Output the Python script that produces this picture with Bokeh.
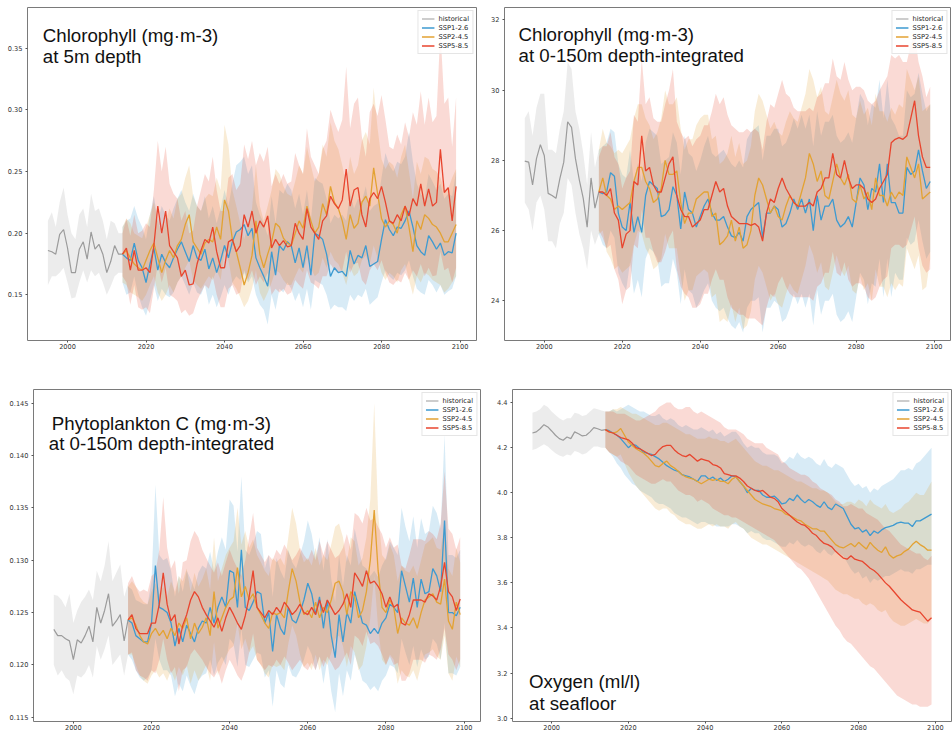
from bokeh.plotting import figure
from bokeh.layouts import column, row
from bokeh.models import Label, Legend, LegendItem, FixedTicker, CustomJSTickFormatter
from bokeh.embed import file_html
from bokeh.resources import INLINE

# ---------------- data ----------------
HIST_YEARS = list(range(1995, 2015))
SSP_YEARS = list(range(2014, 2100))
X_TICKS = [2000, 2020, 2040, 2060, 2080, 2100]
SERIES_NAMES = ["historical", "SSP1-2.6", "SSP2-4.5", "SSP5-8.5"]

# Panel 1: Chlorophyll at 5m depth
CHL5_YTICKS = [0.15, 0.20, 0.25, 0.30, 0.35]
CHL5_HIST = [0.186,0.185,0.183,0.199,0.203,0.188,0.168,0.168,0.187,0.193,
             0.179,0.201,0.187,0.191,0.183,0.168,0.177,0.190,0.183,0.183]
CHL5_HIST_LO = [0.158,0.165,0.165,0.168,0.172,0.160,0.147,0.148,0.160,0.170,
                0.160,0.170,0.165,0.168,0.160,0.150,0.157,0.165,0.168,0.168]
CHL5_HIST_HI = [0.210,0.217,0.205,0.225,0.237,0.215,0.200,0.195,0.215,0.220,
                0.205,0.232,0.218,0.220,0.210,0.195,0.210,0.208,0.200,0.200]
CHL5_SSP126 = [0.183,0.180,0.178,0.192,0.178,0.172,0.160,0.175,0.188,0.170,
               0.183,0.176,0.172,0.180,0.187,0.193,0.185,0.177,0.190,0.180,
               0.178,0.187,0.171,0.180,0.168,0.178,0.190,0.180,0.193,0.201,
               0.203,0.207,0.198,0.204,0.180,0.172,0.165,0.157,0.185,0.166,
               0.190,0.186,0.193,0.190,0.176,0.188,0.172,0.190,0.166,0.200,
               0.198,0.195,0.183,0.165,0.172,0.168,0.169,0.165,0.186,0.175,
               0.182,0.180,0.190,0.173,0.175,0.177,0.195,0.211,0.203,0.198,
               0.205,0.204,0.210,0.218,0.205,0.190,0.185,0.182,0.198,0.193,
               0.187,0.192,0.182,0.185,0.184,0.200]
CHL5_SSP126_LO = [0.160,0.150,0.152,0.165,0.150,0.140,0.133,0.145,0.158,0.145,
                  0.155,0.150,0.148,0.152,0.160,0.165,0.158,0.150,0.160,0.152,
                  0.150,0.158,0.142,0.150,0.140,0.148,0.158,0.150,0.160,0.165,
                  0.162,0.168,0.160,0.165,0.150,0.142,0.138,0.126,0.150,0.138,
                  0.155,0.152,0.160,0.155,0.145,0.152,0.140,0.155,0.138,0.162,
                  0.160,0.158,0.150,0.138,0.142,0.140,0.140,0.137,0.150,0.145,
                  0.150,0.148,0.155,0.142,0.145,0.148,0.160,0.170,0.165,0.162,
                  0.168,0.166,0.170,0.178,0.165,0.155,0.152,0.150,0.162,0.158,
                  0.152,0.158,0.150,0.153,0.155,0.165]
CHL5_SSP126_HI = [0.205,0.210,0.212,0.222,0.212,0.205,0.195,0.215,0.230,0.210,
                  0.222,0.215,0.210,0.220,0.228,0.235,0.225,0.218,0.232,0.222,
                  0.218,0.230,0.212,0.222,0.208,0.220,0.235,0.222,0.240,0.255,
                  0.258,0.262,0.248,0.255,0.225,0.215,0.208,0.198,0.230,0.208,
                  0.235,0.232,0.240,0.235,0.220,0.232,0.215,0.235,0.210,0.245,
                  0.242,0.240,0.228,0.208,0.215,0.212,0.215,0.210,0.232,0.220,
                  0.228,0.226,0.238,0.218,0.222,0.224,0.245,0.265,0.255,0.250,
                  0.258,0.256,0.262,0.282,0.258,0.240,0.232,0.228,0.248,0.242,
                  0.235,0.240,0.228,0.232,0.230,0.250]
CHL5_SSP245 = [0.183,0.186,0.180,0.175,0.172,0.170,0.178,0.186,0.192,0.180,
               0.168,0.178,0.186,0.180,0.190,0.195,0.207,0.215,0.193,0.188,
               0.183,0.192,0.195,0.193,0.205,0.195,0.227,0.218,0.195,0.185,
               0.172,0.158,0.168,0.182,0.210,0.183,0.172,0.183,0.193,0.208,
               0.205,0.196,0.192,0.190,0.200,0.210,0.204,0.222,0.210,0.200,
               0.205,0.224,0.215,0.238,0.225,0.220,0.210,0.195,0.215,0.204,
               0.208,0.225,0.230,0.222,0.253,0.232,0.212,0.205,0.210,0.207,
               0.200,0.215,0.222,0.205,0.185,0.210,0.203,0.215,0.212,0.207,
               0.205,0.200,0.193,0.193,0.200,0.207]
CHL5_SSP245_LO = [0.160,0.158,0.152,0.150,0.148,0.145,0.150,0.158,0.165,0.152,
                  0.145,0.150,0.158,0.152,0.160,0.165,0.172,0.178,0.162,0.158,
                  0.155,0.160,0.165,0.162,0.170,0.162,0.185,0.178,0.160,0.155,
                  0.148,0.140,0.145,0.155,0.170,0.152,0.145,0.152,0.160,0.170,
                  0.168,0.162,0.158,0.158,0.165,0.172,0.168,0.180,0.172,0.165,
                  0.168,0.180,0.172,0.185,0.178,0.175,0.168,0.158,0.172,0.165,
                  0.168,0.178,0.182,0.175,0.190,0.180,0.168,0.162,0.168,0.165,
                  0.160,0.170,0.175,0.162,0.150,0.165,0.160,0.168,0.166,0.162,
                  0.160,0.158,0.152,0.155,0.160,0.165]
CHL5_SSP245_HI = [0.205,0.212,0.208,0.200,0.198,0.196,0.205,0.215,0.225,0.210,
                  0.198,0.210,0.220,0.212,0.228,0.232,0.245,0.255,0.230,0.222,
                  0.218,0.228,0.232,0.230,0.245,0.235,0.288,0.272,0.235,0.222,
                  0.208,0.195,0.205,0.220,0.255,0.222,0.210,0.222,0.235,0.252,
                  0.248,0.238,0.232,0.230,0.242,0.255,0.248,0.270,0.255,0.242,
                  0.248,0.272,0.262,0.290,0.275,0.268,0.255,0.238,0.262,0.248,
                  0.255,0.275,0.282,0.272,0.318,0.285,0.260,0.252,0.258,0.255,
                  0.245,0.262,0.272,0.250,0.228,0.258,0.248,0.262,0.260,0.252,
                  0.250,0.245,0.235,0.236,0.245,0.252]
CHL5_SSP585 = [0.183,0.188,0.170,0.186,0.170,0.170,0.172,0.168,0.190,0.222,
               0.200,0.218,0.190,0.185,0.180,0.165,0.170,0.158,0.159,0.175,
               0.186,0.195,0.192,0.205,0.185,0.172,0.172,0.193,0.195,0.185,
               0.190,0.215,0.205,0.218,0.200,0.210,0.205,0.214,0.188,0.195,
               0.190,0.194,0.189,0.190,0.208,0.200,0.195,0.220,0.205,0.200,
               0.195,0.210,0.214,0.230,0.224,0.220,0.227,0.252,0.222,0.235,
               0.237,0.215,0.205,0.228,0.233,0.228,0.238,0.225,0.210,0.208,
               0.215,0.210,0.222,0.214,0.228,0.222,0.240,0.222,0.236,0.222,
               0.225,0.268,0.233,0.237,0.210,0.238]
CHL5_SSP585_LO = [0.165,0.160,0.142,0.158,0.140,0.138,0.140,0.135,0.155,0.175,
                  0.160,0.172,0.150,0.148,0.145,0.135,0.138,0.133,0.135,0.145,
                  0.152,0.158,0.155,0.165,0.150,0.140,0.140,0.155,0.158,0.150,
                  0.152,0.170,0.162,0.170,0.158,0.165,0.160,0.168,0.150,0.155,
                  0.152,0.155,0.150,0.152,0.162,0.158,0.155,0.170,0.160,0.158,
                  0.155,0.165,0.165,0.175,0.170,0.168,0.170,0.185,0.168,0.175,
                  0.176,0.162,0.158,0.170,0.175,0.170,0.178,0.168,0.160,0.158,
                  0.162,0.160,0.168,0.162,0.170,0.165,0.175,0.165,0.172,0.165,
                  0.166,0.185,0.170,0.172,0.160,0.172]
CHL5_SSP585_HI = [0.200,0.212,0.198,0.215,0.200,0.202,0.208,0.205,0.235,0.275,
                  0.250,0.270,0.240,0.232,0.228,0.210,0.218,0.200,0.202,0.222,
                  0.235,0.248,0.242,0.262,0.235,0.218,0.218,0.245,0.248,0.235,
                  0.240,0.272,0.260,0.275,0.255,0.265,0.258,0.270,0.238,0.248,
                  0.240,0.248,0.240,0.242,0.265,0.255,0.248,0.285,0.262,0.255,
                  0.248,0.268,0.275,0.300,0.290,0.282,0.292,0.335,0.285,0.305,
                  0.310,0.278,0.262,0.298,0.305,0.295,0.312,0.292,0.270,0.268,
                  0.280,0.272,0.290,0.278,0.298,0.288,0.315,0.288,0.310,0.290,
                  0.295,0.365,0.305,0.310,0.270,0.310]

# Panel 2: Chlorophyll 0-150m depth-integrated
CHLI_YTICKS = [24, 26, 28, 30, 32]
CHLI_HIST = [27.98,27.95,27.3,28.05,28.45,28.14,27.06,27.0,26.92,27.48,
             27.95,29.1,28.94,28.05,27.44,26.92,26.1,27.5,26.64,27.1]
CHLI_HIST_LO = [26.8,26.6,26.0,26.8,27.0,26.6,25.7,25.7,25.5,26.2,
                26.5,27.5,27.3,26.5,25.9,25.5,24.9,26.0,25.6,25.9]
CHLI_HIST_HI = [29.2,29.4,28.7,29.5,29.9,29.9,28.3,28.3,28.2,28.9,
                29.4,30.8,30.6,29.4,28.9,28.2,27.3,28.8,27.8,28.3]
CHLI_SSP126 = [27.1,27.05,27.1,27.65,27.55,26.5,26.1,26.0,26.8,25.95,
               26.4,25.95,27.0,27.4,27.3,27.2,26.4,26.45,26.6,27.25,
               27.0,26.05,27.1,26.6,26.5,26.1,26.4,26.7,26.9,26.5,
               26.3,26.3,26.4,26.1,25.85,25.8,25.95,25.7,26.4,26.6,
               26.7,26.8,25.8,26.5,26.5,26.7,26.6,26.1,26.2,26.5,
               26.9,26.6,26.9,26.5,26.9,26.0,27.0,26.3,26.7,26.7,
               26.9,26.3,26.1,26.2,26.4,26.1,26.8,27.5,27.3,26.6,
               27.2,27.1,27.9,26.8,27.9,26.8,26.8,26.5,26.5,27.8,
               27.6,27.7,28.3,27.7,27.2,27.4]
CHLI_SSP126_LO = [25.9,25.6,25.5,26.0,25.8,24.8,24.5,24.3,25.1,24.2,
                  24.6,24.1,25.2,25.5,25.4,25.2,24.4,24.5,24.5,25.2,
                  24.8,23.9,24.9,24.3,24.2,23.8,24.0,24.3,24.5,24.0,
                  23.8,23.7,23.8,23.5,23.3,23.2,23.4,23.1,23.8,24.0,
                  24.0,24.1,23.1,23.8,23.8,24.0,23.9,23.4,23.5,23.8,
                  24.2,23.9,24.2,23.8,24.2,23.3,24.3,23.6,24.0,24.0,
                  24.2,23.6,23.4,23.5,23.7,23.4,24.1,24.8,24.6,23.9,
                  24.5,24.4,25.2,24.1,25.2,24.1,24.8,24.6,24.6,25.8,
                  25.6,25.7,26.3,25.7,25.2,25.4]
CHLI_SSP126_HI = [28.3,28.4,28.5,28.9,28.8,27.9,27.6,27.5,28.3,27.4,
                  27.9,27.4,28.5,28.9,28.8,28.7,27.9,28.0,28.1,28.8,
                  28.5,27.6,28.7,28.2,28.1,27.7,28.0,28.4,28.7,28.2,
                  28.1,28.2,28.3,28.1,27.9,27.8,28.0,27.8,28.6,28.8,
                  28.9,29.0,28.0,28.7,28.7,28.9,28.9,28.4,28.5,28.8,
                  29.2,28.9,29.3,28.9,29.3,28.4,29.4,28.7,29.1,29.1,
                  29.3,28.7,28.5,28.6,28.8,28.5,29.2,29.9,29.7,29.0,
                  29.6,29.5,30.3,29.2,30.3,29.2,29.0,28.7,28.7,30.0,
                  29.8,29.9,30.5,29.9,29.4,29.6]
CHLI_SSP245 = [27.1,27.5,27.0,26.9,26.6,26.7,26.6,26.7,26.8,27.4,
               27.8,27.8,27.4,27.2,26.8,26.9,27.2,28.0,27.6,27.6,
               27.7,26.8,26.2,26.5,26.5,26.9,27.0,27.1,27.1,26.4,
               26.5,25.6,25.7,25.85,26.3,25.7,26.1,25.5,25.6,26.0,
               27.0,27.5,27.3,26.9,26.5,26.7,26.4,26.3,26.7,27.0,
               26.8,26.7,27.1,27.5,28.2,27.9,27.4,27.7,27.0,26.9,
               27.4,27.9,27.5,27.3,27.6,26.9,26.8,27.3,26.9,27.1,
               26.6,27.5,27.0,27.0,26.7,27.1,26.9,27.1,27.0,28.1,
               27.8,27.5,27.9,26.9,27.0,27.1]
CHLI_SSP245_LO = [25.9,26.0,25.4,25.2,24.9,25.0,24.8,24.9,25.0,25.6,
                  26.0,25.9,25.5,25.3,24.9,25.0,25.2,25.9,25.5,25.5,
                  25.5,24.7,24.0,24.3,24.3,24.7,24.8,24.9,24.8,24.1,
                  24.2,23.4,23.5,23.4,23.9,23.4,23.8,23.2,23.3,23.7,
                  24.6,25.0,24.8,24.4,24.0,24.2,23.9,23.8,24.2,24.5,
                  24.3,24.2,24.6,25.0,25.6,25.3,24.8,25.1,24.4,24.3,
                  24.8,25.3,24.9,24.7,25.0,24.3,24.2,24.7,24.3,24.5,
                  24.0,24.9,24.4,24.4,24.1,24.5,24.3,24.5,24.4,25.5,
                  25.2,24.9,25.3,24.3,24.4,25.2]
CHLI_SSP245_HI = [28.3,28.9,28.5,28.4,28.2,28.3,28.2,28.4,28.6,29.2,
                  29.6,29.6,29.2,29.0,28.6,28.8,29.2,30.0,29.6,29.6,
                  29.8,28.9,28.3,28.6,28.6,29.0,29.2,29.3,29.3,28.6,
                  28.7,27.9,28.0,28.2,28.7,28.1,28.5,27.9,28.0,28.4,
                  29.4,29.9,29.7,29.3,28.9,29.1,28.8,28.7,29.1,29.4,
                  29.2,29.1,29.5,29.9,30.6,30.3,29.8,30.1,29.4,29.3,
                  29.8,30.3,29.9,29.7,30.0,29.3,29.2,29.7,29.3,29.5,
                  29.0,29.9,29.4,29.4,29.1,29.5,29.3,29.6,29.5,30.6,
                  30.3,30.0,30.4,29.4,29.5,29.6]
CHLI_SSP585 = [27.1,27.1,27.0,27.2,26.5,26.3,25.5,25.9,26.0,27.4,
               27.3,28.7,27.7,27.8,27.3,27.1,27.1,27.5,27.9,28.1,
               27.0,26.6,26.4,26.4,26.1,26.2,26.3,26.6,26.6,27.0,
               27.4,27.1,27.2,26.7,26.4,26.3,26.2,26.2,26.2,26.15,
               26.2,26.1,25.7,26.5,26.9,26.8,27.2,27.5,27.2,27.0,
               26.8,26.7,26.7,26.7,26.8,26.7,27.1,27.2,27.5,27.5,
               28.2,27.6,27.5,28.0,27.5,27.2,27.3,27.3,27.2,26.9,
               26.8,26.9,27.2,27.4,27.6,28.5,28.6,28.65,28.6,28.7,
               29.2,29.7,28.7,28.1,27.8,27.8]
CHLI_SSP585_LO = [26.0,25.8,25.5,25.6,24.9,24.6,23.9,24.3,24.4,25.6,
                  25.5,26.6,25.8,25.8,25.4,25.1,25.1,25.4,25.8,26.0,
                  24.9,24.4,24.2,24.1,23.8,23.8,23.9,24.2,24.2,24.6,
                  24.9,24.6,24.6,24.1,23.8,23.7,23.6,23.6,23.5,23.5,
                  23.5,23.4,23.3,23.8,24.2,24.1,24.5,24.7,24.4,24.2,
                  24.1,24.1,24.1,24.1,24.1,24.0,24.4,24.5,24.8,24.8,
                  25.4,24.8,24.7,25.1,24.6,24.4,24.5,24.5,24.4,24.1,
                  24.0,24.1,24.4,24.6,24.7,25.5,25.6,25.6,25.5,25.6,
                  26.0,26.4,25.5,25.0,24.8,24.9]
CHLI_SSP585_HI = [28.1,28.4,28.4,28.8,28.1,27.9,27.2,27.5,27.7,29.3,
                  29.1,30.9,29.6,29.8,29.2,29.1,29.1,29.6,30.0,30.6,
                  29.1,28.8,28.6,28.7,28.4,28.6,28.7,29.0,29.0,29.4,
                  29.9,29.6,29.8,29.3,29.0,28.9,28.8,28.8,28.9,28.8,
                  28.9,28.8,28.3,29.1,29.6,29.5,29.9,30.3,29.9,29.8,
                  29.5,29.4,29.4,29.4,29.5,29.4,29.8,29.9,30.2,30.2,
                  30.9,30.4,30.3,30.8,30.3,30.0,30.1,30.1,30.0,29.7,
                  29.6,29.7,30.0,30.2,30.4,31.0,30.9,31.0,30.8,30.8,
                  31.3,31.6,30.8,30.4,29.8,30.1]

# Panel 3: Phytoplankton C 0-150m depth-integrated
PHYC_YTICKS = [0.115, 0.120, 0.125, 0.130, 0.135, 0.140, 0.145]
PHYC_HIST = [0.1234,0.1228,0.1228,0.1225,0.1223,0.1205,0.1224,0.1221,0.1228,0.1237,
             0.1222,0.1255,0.1240,0.1252,0.1268,0.1237,0.1242,0.1248,0.1223,0.1243]
PHYC_HIST_LO = [0.1200,0.1190,0.1195,0.1188,0.1185,0.1172,0.1190,0.1188,0.1192,0.1200,
                0.1188,0.1218,0.1205,0.1215,0.1228,0.1200,0.1205,0.1210,0.1190,0.1210]
PHYC_HIST_HI = [0.1267,0.1266,0.1262,0.1255,0.1268,0.1240,0.1252,0.1260,0.1265,0.1272,
                0.1262,0.1290,0.1280,0.1295,0.1318,0.1280,0.1288,0.1296,0.1265,0.1277]
PHYC_SSP126 = [0.1243,0.1240,0.1228,0.1225,0.1222,0.1222,0.1240,0.1295,0.1255,0.1253,
               0.1250,0.1240,0.1218,0.1235,0.1222,0.1238,0.1230,0.1222,0.1235,0.1242,
               0.1240,0.1255,0.1240,0.1255,0.1265,0.1255,0.1290,0.1288,0.1255,0.1310,
               0.1255,0.1252,0.1260,0.1270,0.1268,0.1240,0.1250,0.1213,0.1248,0.1235,
               0.1229,0.1255,0.1243,0.1240,0.1250,0.1262,0.1278,0.1268,0.1248,0.1265,
               0.1235,0.1262,0.1228,0.1207,0.1248,0.1222,0.1250,0.1240,0.1270,0.1255,
               0.1240,0.1238,0.1230,0.1235,0.1230,0.1240,0.1245,0.1258,0.1255,0.1250,
               0.1290,0.1275,0.1260,0.1283,0.1255,0.1282,0.1268,0.1270,0.1292,0.1285,
               0.1270,0.1338,0.1250,0.1250,0.1247,0.1255]
PHYC_SSP126_LO = [0.1210,0.1205,0.1195,0.1188,0.1185,0.1188,0.1195,0.1225,0.1205,0.1195,
                  0.1195,0.1190,0.1170,0.1182,0.1175,0.1190,0.1180,0.1172,0.1185,0.1190,
                  0.1192,0.1205,0.1190,0.1202,0.1208,0.1200,0.1225,0.1220,0.1198,0.1235,
                  0.1200,0.1198,0.1205,0.1212,0.1210,0.1188,0.1195,0.1160,0.1195,0.1182,
                  0.1178,0.1200,0.1190,0.1188,0.1195,0.1205,0.1218,0.1210,0.1195,0.1208,
                  0.1182,0.1205,0.1175,0.1155,0.1192,0.1170,0.1195,0.1185,0.1210,0.1198,
                  0.1185,0.1182,0.1176,0.1180,0.1175,0.1185,0.1190,0.1200,0.1198,0.1192,
                  0.1225,0.1212,0.1200,0.1218,0.1198,0.1215,0.1205,0.1208,0.1225,0.1220,
                  0.1205,0.1240,0.1192,0.1192,0.1190,0.1198]
PHYC_SSP126_HI = [0.1275,0.1272,0.1262,0.1260,0.1258,0.1258,0.1280,0.1372,0.1305,0.1300,
                  0.1302,0.1290,0.1265,0.1285,0.1270,0.1290,0.1282,0.1272,0.1288,0.1295,
                  0.1292,0.1308,0.1290,0.1308,0.1322,0.1310,0.1358,0.1352,0.1308,0.1380,
                  0.1310,0.1305,0.1315,0.1328,0.1325,0.1292,0.1305,0.1265,0.1302,0.1290,
                  0.1282,0.1310,0.1298,0.1292,0.1305,0.1318,0.1338,0.1325,0.1302,0.1322,
                  0.1290,0.1320,0.1282,0.1260,0.1305,0.1275,0.1305,0.1295,0.1330,0.1312,
                  0.1295,0.1292,0.1285,0.1290,0.1284,0.1295,0.1302,0.1318,0.1312,0.1305,
                  0.1350,0.1332,0.1318,0.1342,0.1312,0.1340,0.1325,0.1328,0.1352,0.1345,
                  0.1330,0.1420,0.1305,0.1305,0.1302,0.1310]
PHYC_SSP245 = [0.1243,0.1245,0.1238,0.1228,0.1222,0.1220,0.1230,0.1235,0.1228,0.1233,
               0.1225,0.1235,0.1228,0.1240,0.1235,0.1245,0.1225,0.1240,0.1230,0.1236,
               0.1245,0.1228,0.1270,0.1235,0.1245,0.1255,0.1262,0.1265,0.1293,0.1265,
               0.1275,0.1262,0.1268,0.1255,0.1248,0.1240,0.1235,0.1250,0.1248,0.1250,
               0.1245,0.1270,0.1292,0.1280,0.1260,0.1248,0.1252,0.1245,0.1260,0.1245,
               0.1255,0.1250,0.1262,0.1278,0.1280,0.1270,0.1248,0.1270,0.1265,0.1245,
               0.1252,0.1270,0.1300,0.1348,0.1290,0.1255,0.1250,0.1262,0.1255,0.1230,
               0.1245,0.1240,0.1238,0.1245,0.1235,0.1250,0.1262,0.1265,0.1268,0.1260,
               0.1258,0.1282,0.1242,0.1234,0.1260,0.1248]
PHYC_SSP245_LO = [0.1210,0.1210,0.1200,0.1190,0.1185,0.1182,0.1190,0.1195,0.1188,0.1192,
                  0.1185,0.1195,0.1185,0.1198,0.1190,0.1200,0.1182,0.1195,0.1185,0.1192,
                  0.1200,0.1185,0.1222,0.1190,0.1200,0.1208,0.1215,0.1218,0.1240,0.1215,
                  0.1225,0.1212,0.1218,0.1205,0.1200,0.1192,0.1188,0.1200,0.1198,0.1200,
                  0.1195,0.1220,0.1238,0.1228,0.1210,0.1198,0.1202,0.1195,0.1210,0.1195,
                  0.1205,0.1200,0.1212,0.1225,0.1228,0.1218,0.1198,0.1218,0.1212,0.1195,
                  0.1200,0.1218,0.1245,0.1285,0.1235,0.1205,0.1200,0.1210,0.1205,0.1182,
                  0.1195,0.1190,0.1188,0.1195,0.1185,0.1200,0.1210,0.1212,0.1215,0.1208,
                  0.1205,0.1228,0.1192,0.1185,0.1208,0.1198]
PHYC_SSP245_HI = [0.1275,0.1280,0.1275,0.1265,0.1260,0.1258,0.1270,0.1278,0.1268,0.1275,
                  0.1265,0.1280,0.1270,0.1285,0.1280,0.1292,0.1270,0.1288,0.1275,0.1282,
                  0.1292,0.1272,0.1322,0.1280,0.1292,0.1305,0.1312,0.1318,0.1350,0.1315,
                  0.1328,0.1312,0.1320,0.1305,0.1298,0.1290,0.1285,0.1302,0.1298,0.1302,
                  0.1295,0.1322,0.1350,0.1335,0.1310,0.1298,0.1302,0.1295,0.1312,0.1295,
                  0.1305,0.1300,0.1315,0.1332,0.1335,0.1322,0.1298,0.1322,0.1318,0.1295,
                  0.1302,0.1322,0.1358,0.1450,0.1345,0.1305,0.1300,0.1315,0.1305,0.1280,
                  0.1295,0.1290,0.1288,0.1295,0.1285,0.1300,0.1315,0.1318,0.1322,0.1312,
                  0.1310,0.1335,0.1292,0.1285,0.1312,0.1298]
PHYC_SSP585 = [0.1243,0.1248,0.1235,0.1230,0.1230,0.1230,0.1240,0.1240,0.1258,0.1288,
               0.1258,0.1242,0.1248,0.1220,0.1238,0.1248,0.1262,0.1270,0.1265,0.1255,
               0.1248,0.1242,0.1236,0.1245,0.1232,0.1245,0.1255,0.1248,0.1240,0.1234,
               0.1247,0.1265,0.1290,0.1255,0.1250,0.1245,0.1252,0.1248,0.1255,0.1250,
               0.1260,0.1255,0.1248,0.1252,0.1258,0.1250,0.1248,0.1255,0.1248,0.1262,
               0.1250,0.1262,0.1255,0.1248,0.1252,0.1258,0.1268,0.1255,0.1288,0.1282,
               0.1275,0.1290,0.1278,0.1280,0.1275,0.1268,0.1255,0.1265,0.1255,0.1258,
               0.1240,0.1238,0.1248,0.1262,0.1262,0.1262,0.1260,0.1268,0.1266,0.1262,
               0.1275,0.1298,0.1270,0.1265,0.1252,0.1263]
PHYC_SSP585_LO = [0.1210,0.1212,0.1195,0.1190,0.1188,0.1185,0.1195,0.1192,0.1205,0.1225,
                  0.1205,0.1192,0.1198,0.1175,0.1195,0.1198,0.1210,0.1215,0.1210,0.1205,
                  0.1198,0.1192,0.1188,0.1195,0.1182,0.1195,0.1205,0.1198,0.1190,0.1185,
                  0.1195,0.1212,0.1230,0.1205,0.1200,0.1195,0.1200,0.1198,0.1205,0.1200,
                  0.1208,0.1202,0.1195,0.1200,0.1205,0.1198,0.1195,0.1202,0.1195,0.1208,
                  0.1198,0.1208,0.1202,0.1195,0.1198,0.1205,0.1212,0.1200,0.1228,0.1225,
                  0.1218,0.1232,0.1220,0.1222,0.1218,0.1210,0.1200,0.1208,0.1200,0.1202,
                  0.1185,0.1185,0.1192,0.1205,0.1205,0.1205,0.1202,0.1210,0.1208,0.1205,
                  0.1215,0.1235,0.1210,0.1205,0.1195,0.1205]
PHYC_SSP585_HI = [0.1278,0.1285,0.1275,0.1270,0.1272,0.1270,0.1285,0.1288,0.1310,0.1360,
                  0.1312,0.1292,0.1300,0.1268,0.1298,0.1300,0.1318,0.1328,0.1322,0.1310,
                  0.1302,0.1295,0.1288,0.1298,0.1285,0.1298,0.1310,0.1300,0.1292,0.1285,
                  0.1300,0.1322,0.1345,0.1312,0.1305,0.1298,0.1305,0.1300,0.1310,0.1305,
                  0.1315,0.1308,0.1300,0.1305,0.1312,0.1305,0.1300,0.1310,0.1300,0.1318,
                  0.1305,0.1318,0.1310,0.1302,0.1305,0.1312,0.1325,0.1310,0.1345,0.1342,
                  0.1335,0.1350,0.1338,0.1340,0.1332,0.1325,0.1312,0.1322,0.1312,0.1315,
                  0.1295,0.1292,0.1305,0.1320,0.1320,0.1320,0.1318,0.1328,0.1325,0.1320,
                  0.1335,0.1385,0.1330,0.1325,0.1310,0.1322]

# Panel 4: Oxygen at seafloor
OXY_YTICKS = [3.0, 3.2, 3.4, 3.6, 3.8, 4.0, 4.2, 4.4]
OXY_HIST = [4.265,4.270,4.284,4.302,4.292,4.274,4.255,4.240,4.233,4.247,
            4.240,4.270,4.262,4.252,4.255,4.270,4.289,4.284,4.277,4.280]
OXY_HIST_LO = [4.190,4.195,4.205,4.215,4.205,4.190,4.175,4.165,4.160,4.170,
               4.165,4.185,4.180,4.170,4.175,4.190,4.205,4.205,4.200,4.200]
OXY_HIST_HI = [4.355,4.360,4.370,4.390,4.380,4.360,4.345,4.330,4.320,4.330,
               4.330,4.355,4.350,4.340,4.345,4.360,4.375,4.370,4.365,4.360]
OXY_SSP126 = [4.28,4.275,4.265,4.255,4.24,4.22,4.20,4.215,4.21,4.195,
              4.18,4.175,4.17,4.16,4.15,4.135,4.12,4.11,4.10,4.095,
              4.08,4.075,4.07,4.06,4.05,4.075,4.075,4.06,4.07,4.055,
              4.065,4.05,4.06,4.075,4.07,4.05,4.03,4.00,4.02,4.01,
              4.01,3.99,3.98,3.98,3.985,3.97,3.95,3.955,3.975,3.965,
              3.99,3.97,3.955,3.97,3.96,3.945,3.935,3.96,3.935,3.925,
              3.95,3.94,3.93,3.895,3.86,3.84,3.845,3.825,3.835,3.81,
              3.83,3.82,3.835,3.845,3.85,3.855,3.865,3.87,3.865,3.865,
              3.85,3.875,3.875,3.885,3.895,3.905]
OXY_SSP126_LO = [4.20,4.18,4.16,4.13,4.11,4.08,4.06,4.04,4.03,4.01,
                 4.00,3.99,3.98,3.96,3.95,3.95,3.94,3.93,3.91,3.90,
                 3.89,3.89,3.88,3.87,3.86,3.87,3.87,3.86,3.86,3.85,
                 3.85,3.85,3.85,3.86,3.86,3.85,3.84,3.82,3.83,3.82,
                 3.82,3.80,3.79,3.79,3.78,3.77,3.76,3.76,3.78,3.77,
                 3.79,3.77,3.76,3.77,3.76,3.74,3.73,3.75,3.73,3.72,
                 3.74,3.73,3.72,3.69,3.66,3.64,3.65,3.62,3.63,3.60,
                 3.62,3.61,3.62,3.63,3.63,3.64,3.65,3.66,3.65,3.65,
                 3.64,3.66,3.66,3.67,3.68,3.68]
OXY_SSP126_HI = [4.36,4.36,4.37,4.36,4.37,4.38,4.39,4.38,4.37,4.36,
                 4.36,4.35,4.34,4.34,4.35,4.33,4.32,4.33,4.32,4.30,
                 4.29,4.30,4.29,4.28,4.28,4.29,4.28,4.27,4.28,4.26,
                 4.27,4.25,4.26,4.27,4.27,4.25,4.22,4.20,4.21,4.20,
                 4.20,4.18,4.17,4.17,4.17,4.16,4.13,4.14,4.16,4.15,
                 4.18,4.16,4.15,4.16,4.15,4.13,4.12,4.15,4.12,4.11,
                 4.13,4.12,4.11,4.08,4.05,4.03,4.04,4.02,4.03,4.00,
                 4.02,4.01,4.03,4.04,4.05,4.06,4.08,4.10,4.10,4.11,
                 4.10,4.13,4.14,4.16,4.18,4.20]
OXY_SSP245 = [4.28,4.27,4.265,4.27,4.285,4.255,4.225,4.21,4.195,4.185,
              4.175,4.16,4.14,4.12,4.115,4.13,4.14,4.12,4.11,4.095,
              4.08,4.07,4.065,4.06,4.05,4.04,4.05,4.06,4.055,4.06,
              4.05,4.05,4.04,4.06,4.07,4.05,4.03,4.01,3.99,3.97,
              3.96,3.95,3.945,3.94,3.93,3.925,3.92,3.905,3.90,3.89,
              3.88,3.875,3.86,3.85,3.84,3.84,3.83,3.83,3.81,3.79,
              3.77,3.76,3.755,3.765,3.775,3.76,3.78,3.765,3.75,3.78,
              3.76,3.745,3.735,3.76,3.725,3.71,3.72,3.725,3.74,3.75,
              3.77,3.785,3.77,3.76,3.745,3.745]
OXY_SSP245_LO = [4.20,4.18,4.17,4.16,4.17,4.13,4.09,4.06,4.03,4.01,
                 3.99,3.97,3.95,3.93,3.92,3.93,3.93,3.91,3.90,3.88,
                 3.87,3.86,3.86,3.85,3.84,3.84,3.85,3.86,3.85,3.86,
                 3.85,3.85,3.84,3.86,3.87,3.85,3.84,3.82,3.80,3.79,
                 3.78,3.77,3.77,3.76,3.75,3.74,3.73,3.72,3.71,3.70,
                 3.69,3.68,3.67,3.66,3.65,3.64,3.63,3.62,3.61,3.59,
                 3.57,3.56,3.55,3.55,3.54,3.53,3.53,3.51,3.50,3.51,
                 3.50,3.48,3.47,3.48,3.45,3.43,3.42,3.41,3.41,3.42,
                 3.43,3.44,3.43,3.42,3.42,3.44]
OXY_SSP245_HI = [4.36,4.36,4.37,4.37,4.38,4.37,4.36,4.35,4.35,4.34,
                 4.33,4.32,4.31,4.30,4.30,4.31,4.31,4.30,4.29,4.28,
                 4.27,4.26,4.26,4.25,4.24,4.24,4.24,4.25,4.24,4.24,
                 4.23,4.23,4.22,4.23,4.24,4.22,4.20,4.18,4.16,4.14,
                 4.13,4.12,4.12,4.11,4.10,4.10,4.09,4.08,4.07,4.06,
                 4.05,4.05,4.04,4.03,4.02,4.02,4.01,4.01,4.00,3.98,
                 3.96,3.95,3.95,3.96,3.96,3.95,3.97,3.96,3.94,3.97,
                 3.95,3.94,3.93,3.95,3.92,3.91,3.92,3.93,3.95,3.96,
                 3.98,4.00,3.99,3.99,4.02,4.05]
OXY_SSP585 = [4.28,4.27,4.265,4.255,4.245,4.24,4.235,4.22,4.20,4.195,
              4.185,4.175,4.165,4.17,4.19,4.205,4.21,4.21,4.19,4.175,
              4.165,4.16,4.17,4.155,4.14,4.15,4.145,4.14,4.125,4.12,
              4.11,4.085,4.08,4.075,4.075,4.065,4.05,4.03,4.02,4.01,
              4.005,4.01,3.995,3.98,3.975,3.96,3.93,3.915,3.90,3.885,
              3.87,3.86,3.855,3.84,3.82,3.81,3.79,3.775,3.77,3.76,
              3.74,3.725,3.71,3.705,3.72,3.705,3.70,3.695,3.68,3.665,
              3.655,3.64,3.62,3.60,3.585,3.565,3.545,3.525,3.51,3.495,
              3.48,3.475,3.47,3.45,3.43,3.445]
OXY_SSP585_LO = [4.20,4.18,4.17,4.16,4.14,4.13,4.12,4.10,4.08,4.07,
                 4.06,4.05,4.04,4.04,4.05,4.06,4.05,4.05,4.03,4.01,
                 4.00,3.99,3.99,3.98,3.96,3.97,3.96,3.95,3.93,3.92,
                 3.91,3.90,3.90,3.89,3.89,3.88,3.87,3.86,3.85,3.84,
                 3.83,3.82,3.81,3.80,3.79,3.77,3.75,3.73,3.71,3.69,
                 3.67,3.66,3.64,3.62,3.59,3.56,3.53,3.50,3.47,3.44,
                 3.41,3.39,3.36,3.34,3.33,3.31,3.29,3.27,3.25,3.23,
                 3.22,3.20,3.18,3.16,3.14,3.12,3.10,3.09,3.08,3.07,
                 3.06,3.06,3.05,3.05,3.05,3.06]
OXY_SSP585_HI = [4.36,4.36,4.36,4.35,4.35,4.35,4.34,4.33,4.32,4.32,
                 4.33,4.34,4.35,4.36,4.38,4.39,4.40,4.40,4.38,4.37,
                 4.37,4.38,4.38,4.36,4.35,4.36,4.35,4.34,4.33,4.32,
                 4.31,4.29,4.28,4.28,4.28,4.27,4.26,4.24,4.23,4.22,
                 4.22,4.22,4.20,4.19,4.18,4.17,4.14,4.13,4.11,4.10,
                 4.09,4.08,4.08,4.07,4.05,4.04,4.02,4.01,4.00,3.99,
                 3.97,3.96,3.94,3.94,3.95,3.94,3.93,3.93,3.91,3.90,
                 3.89,3.88,3.86,3.84,3.83,3.81,3.79,3.77,3.76,3.75,
                 3.74,3.73,3.73,3.71,3.70,3.72]

# ---------------- styling / layout ----------------
COLORS = ["#9b9b9b", "#3d9ad1", "#e3a232", "#e8452e"]
BAND_COLORS = ["#a8a8a8", "#3d9ad1", "#e3a232", "#e8452e"]
X_RANGE = (1989.8, 2104.2)
TITLE_FONT = "Liberation Sans"
TICK_FONT = "DejaVu Sans"

PANELS = [
    dict(data=(CHL5_HIST, CHL5_HIST_LO, CHL5_HIST_HI,
               [(CHL5_SSP126, CHL5_SSP126_LO, CHL5_SSP126_HI),
                (CHL5_SSP245, CHL5_SSP245_LO, CHL5_SSP245_HI),
                (CHL5_SSP585, CHL5_SSP585_LO, CHL5_SSP585_HI)]),
         yticks=CHL5_YTICKS, dec=2, yr=(0.113, 0.383),
         w=488, h=370, bl=27, br=12, bt=6, bb=30,
         titles=[("Chlorophyll (mg\u00b7m-3)", 1993.7, 0.3603), ("at 5m depth", 1993.7, 0.3430)]),
    dict(data=(CHLI_HIST, CHLI_HIST_LO, CHLI_HIST_HI,
               [(CHLI_SSP126, CHLI_SSP126_LO, CHLI_SSP126_HI),
                (CHLI_SSP245, CHLI_SSP245_LO, CHLI_SSP245_HI),
                (CHLI_SSP585, CHLI_SSP585_LO, CHLI_SSP585_HI)]),
         yticks=CHLI_YTICKS, dec=0, yr=(22.87, 32.355),
         w=464, h=370, bl=15, br=2, bt=7, bb=27,
         titles=[("Chlorophyll (mg\u00b7m-3)", 1993.4, 31.58), ("at 0-150m depth-integrated", 1993.4, 30.99)]),
    dict(data=(PHYC_HIST, PHYC_HIST_LO, PHYC_HIST_HI,
               [(PHYC_SSP126, PHYC_SSP126_LO, PHYC_SSP126_HI),
                (PHYC_SSP245, PHYC_SSP245_LO, PHYC_SSP245_HI),
                (PHYC_SSP585, PHYC_SSP585_LO, PHYC_SSP585_HI)]),
         yticks=PHYC_YTICKS, dec=3, yr=(0.1146, 0.1463),
         w=488, h=363, bl=33, br=8, bt=18, bb=11,
         titles=[("Phytoplankton C (mg\u00b7m-3)", 1994.5, 0.14304), ("at 0-150m depth-integrated", 1993.7, 0.14114)]),
    dict(data=(OXY_HIST, OXY_HIST_LO, OXY_HIST_HI,
               [(OXY_SSP126, OXY_SSP126_LO, OXY_SSP126_HI),
                (OXY_SSP245, OXY_SSP245_LO, OXY_SSP245_HI),
                (OXY_SSP585, OXY_SSP585_LO, OXY_SSP585_HI)]),
         yticks=OXY_YTICKS, dec=1, yr=(2.985, 4.458),
         w=464, h=363, bl=24, br=1, bt=19, bb=12,
         titles=[("Oxygen (ml/l)", 1994.1, 3.1627), ("at seafloor", 1994.1, 3.0667)]),
]

# sanity check on array lengths
for cfg in PANELS:
    hist, hlo, hhi, ssps = cfg["data"]
    for arr in (hist, hlo, hhi):
        if len(arr) != len(HIST_YEARS):
            raise ValueError("hist length %d" % len(arr))
    for trio in ssps:
        for arr in trio:
            if len(arr) != len(SSP_YEARS):
                raise ValueError("ssp length %d first %r" % (len(arr), arr[:3]))


def make_panel(cfg):
    p = figure(width=cfg["w"], height=cfg["h"], x_range=X_RANGE, y_range=cfg["yr"],
               output_backend="svg", toolbar_location=None,
               min_border_left=cfg["bl"], min_border_right=cfg["br"],
               min_border_top=cfg["bt"], min_border_bottom=cfg["bb"])
    p.xgrid.visible = False
    p.ygrid.visible = False
    p.outline_line_color = "#7a7a7a"
    p.outline_line_width = 1
    p.background_fill_color = "white"
    p.border_fill_color = "white"

    for ax in (p.xaxis[0], p.yaxis[0]):
        ax.axis_line_color = None
        ax.major_tick_line_color = "#555555"
        ax.major_tick_out = 2
        ax.major_tick_in = 0
        ax.minor_tick_line_color = None
        ax.major_label_text_font = TICK_FONT
        ax.major_label_text_font_size = "6.6px"
        ax.major_label_text_color = "#333333"
    p.xaxis.ticker = FixedTicker(ticks=X_TICKS)
    p.xaxis.formatter = CustomJSTickFormatter(code="return tick.toFixed(0);")
    p.xaxis.major_label_standoff = 1
    p.yaxis.ticker = FixedTicker(ticks=cfg["yticks"])
    p.yaxis.formatter = CustomJSTickFormatter(code="return tick.toFixed(%d);" % cfg["dec"])
    p.yaxis.major_label_standoff = 3

    hist, hlo, hhi, ssps = cfg["data"]
    p.varea(x=HIST_YEARS, y1=hlo, y2=hhi, fill_color=BAND_COLORS[0], fill_alpha=0.22)
    for i, (m, lo, hi) in enumerate(ssps):
        p.varea(x=SSP_YEARS, y1=lo, y2=hi, fill_color=BAND_COLORS[i + 1], fill_alpha=0.2)

    renderers = [p.line(HIST_YEARS, hist, line_color=COLORS[0], line_width=1.2)]
    for i, (m, lo, hi) in enumerate(ssps):
        renderers.append(p.line(SSP_YEARS, m, line_color=COLORS[i + 1], line_width=1.3))

    items = [LegendItem(label=n, renderers=[r]) for n, r in zip(SERIES_NAMES, renderers)]
    leg = Legend(items=items, location="top_right", margin=3, padding=3, spacing=0,
                 glyph_width=13, glyph_height=9, label_height=9, label_standoff=4,
                 label_text_font=TICK_FONT, label_text_font_size="6.7px",
                 label_text_color="#222222", border_line_color="#cccccc",
                 border_line_width=1, background_fill_alpha=0.85)
    p.add_layout(leg)

    for text, x, y in cfg["titles"]:
        p.add_layout(Label(x=x, y=y, text=text, text_font=TITLE_FONT,
                           text_font_size="18.7px", text_color="#111111",
                           text_baseline="alphabetic", text_align="left"))
    return p


figs = [make_panel(c) for c in PANELS]
layout = column(row(figs[0], figs[1]), row(figs[2], figs[3]))

open("out.html", "w").write(file_html(layout, INLINE))
